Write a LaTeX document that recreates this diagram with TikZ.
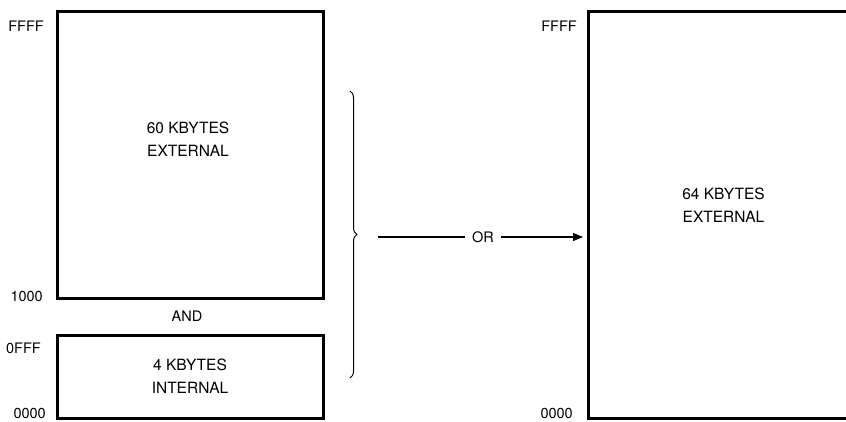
\documentclass[tikz,border=0pt]{standalone}
\usepackage{fontspec}
\setmainfont{TeX Gyre Heros}
\usetikzlibrary{arrows.meta,decorations.pathreplacing}
\begin{document}
\begin{tikzpicture}[x=1pt,y=-1pt,
    membox/.style={draw, line width=3pt, inner sep=0pt, outer sep=0pt},
    memtext/.style={align=center, font=\fontsize{15.5}{23}\selectfont},
    addr/.style={inner sep=0pt, font=\fontsize{14.5}{17}\selectfont}]
  \useasboundingbox (0,0) rectangle (846,421);

  % memory blocks
  \node[membox, minimum width=266pt, minimum height=287pt] (ext60) at (190,154.5) {};
  \node[membox, minimum width=266pt, minimum height=83pt] (int4) at (190,376.5) {};
  \node[membox, minimum width=290pt, minimum height=407pt] (ext64) at (733,214.5) {};

  \node[memtext] (ext60txt) at (188,139) {60 KBYTES\\EXTERNAL};
  \node[memtext] (int4txt) at (190,376) {4 KBYTES\\INTERNAL};
  \node[memtext] (ext64txt) at (723.5,205) {64 KBYTES\\EXTERNAL};

  % addresses
  \node[addr, anchor=east] (hiA) at (44,26.5) {FFFF};
  \node[addr, anchor=east] (midA) at (43,296) {1000};
  \node[addr] (and) at (187,316) {AND};
  \node[addr, anchor=east] (midB) at (41,348.5) {0FFF};
  \node[addr, anchor=east] (loA) at (46,413) {0000};
  \node[addr, anchor=east] (hiB) at (577,26.5) {FFFF};
  \node[addr, anchor=east] (loB) at (573,413) {0000};

  % brace and arrow
  \coordinate (bracetop) at (350,91);
  \coordinate (bracebot) at (350,378);
  \coordinate (orstart) at (378,237);
  \draw[line width=1pt, decorate, decoration={brace, amplitude=7pt}] (bracetop) -- (bracebot);
  \draw[line width=1.2pt, -{Triangle[length=10pt,width=8pt]}, shorten >=5pt]
    (orstart) -- node[addr, fill=white, inner xsep=7pt, inner ysep=2pt] (or) {OR} (ext64.west |- orstart);

\end{tikzpicture}
\end{document}
